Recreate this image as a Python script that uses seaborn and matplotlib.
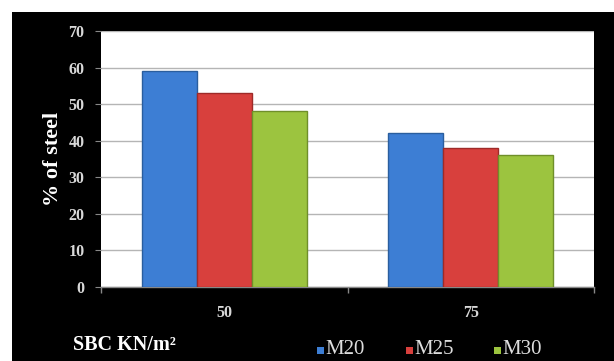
import matplotlib
matplotlib.use("Agg")
import matplotlib.pyplot as plt
from matplotlib.patches import Rectangle
import seaborn as sns
import pandas as pd

# Steel percentage by safe bearing capacity and concrete grade
sbc = ["50", "75"]
grades = ["M20", "M25", "M30"]
m20 = [59, 42]
m25 = [53, 38]
m30 = [48, 36]
y_ticks = [0, 10, 20, 30, 40, 50, 60, 70]

rows = []
for i, s in enumerate(sbc):
    for g, vals in zip(grades, [m20, m25, m30]):
        rows.append({"SBC": s, "Grade": g, "steel": vals[i]})
df = pd.DataFrame(rows)

sns.set_theme(style="white")
plt.rcParams["font.family"] = ["Liberation Serif", "DejaVu Serif"]

W, H = 614, 361
fig = plt.figure(figsize=(W / 100, H / 100), dpi=100)
fig.patch.set_facecolor("white")

# black panel behind the chart
bg = fig.add_axes([12 / W, 0, 1 - 12 / W, (H - 12) / H], zorder=0)
bg.set_facecolor("black")
bg.set_xticks([])
bg.set_yticks([])
for s in bg.spines.values():
    s.set_visible(False)

ax = fig.add_axes([101 / W, (H - 287) / H, (594 - 101) / W, (287 - 31) / H],
                  zorder=1)
ax.set_facecolor("white")

palette = {"M20": "#3d7ed4", "M25": "#d8403d", "M30": "#9cc43f"}
edges = {"M20": "#2a5e9e", "M25": "#9e2a28", "M30": "#6f8f2a"}
sns.barplot(data=df, x="SBC", y="steel", hue="Grade", hue_order=grades,
            palette=palette, width=0.67, gap=0, ax=ax, legend=False,
            saturation=1, zorder=3)

# darker outline on each bar
for cont, g in zip(ax.containers, grades):
    for bar in cont:
        bar.set_edgecolor(edges[g])
        bar.set_linewidth(1.0)

ax.set_ylim(0, 70)
ax.set_xlim(-0.5, 1.5)
ax.set_yticks(y_ticks)
ax.yaxis.grid(True, color="#b5b5b5", linewidth=1.0, zorder=0)
ax.set_axisbelow(True)
for side in ["top", "right", "left"]:
    ax.spines[side].set_visible(False)
ax.spines["bottom"].set_color("#888888")
ax.spines["bottom"].set_linewidth(1.0)

ax.tick_params(axis="y", labelcolor="#d8d8d8", labelsize=11.5, length=4,
               width=0.8, direction="out", pad=8, left=True, color="#888888")
ax.tick_params(axis="x", labelcolor="#d8d8d8", labelsize=11.5, length=0,
               pad=13)
for lab in ax.get_xticklabels() + ax.get_yticklabels():
    lab.set_fontweight("bold")
ax.set_xticks([-0.5, 0.5, 1.5], minor=True)
ax.tick_params(axis="x", which="minor", length=4, color="#888888",
               direction="out", bottom=True)

ax.set_xlabel("")
ax.set_ylabel("% of steel", color="white", fontsize=16, fontweight="bold")
ax.yaxis.set_label_coords(-0.078, 0.5)

fig.text(73 / W, 1 - 345 / H, "SBC KN/m²", color="white",
         fontsize=14.5, fontweight="bold", va="center", ha="left", zorder=3)

# legend entries along the bottom
leg_x = [321, 410, 498]
for x, g in zip(leg_x, grades):
    fig.patches.append(Rectangle(((x - 4) / W, 1 - 354 / H), 7 / W, 7 / H,
                                 transform=fig.transFigure,
                                 facecolor=palette[g], edgecolor="none",
                                 zorder=3))
    fig.text((x + 4) / W, 1 - 349 / H, g, color="#dddddd", fontsize=15,
             va="center", ha="left", zorder=3)

fig.savefig("out.png", dpi=100, facecolor=fig.get_facecolor())
